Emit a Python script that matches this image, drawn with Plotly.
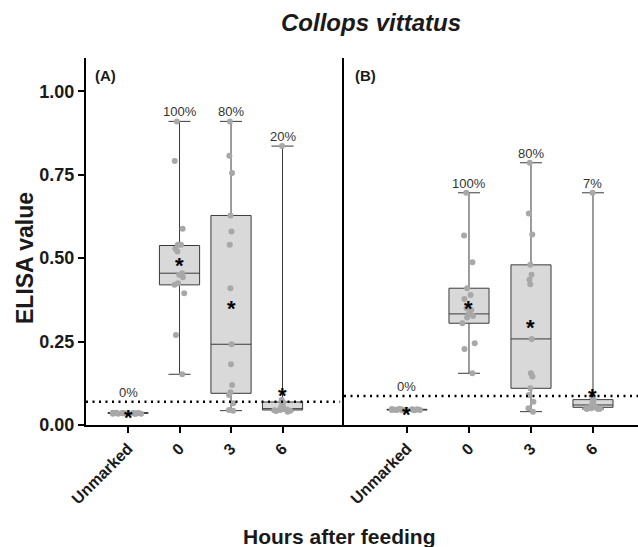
import plotly.graph_objects as go

# ---------------- data ----------------
categories = ["Unmarked", "0", "3", "6"]
y_tick_vals = [0.0, 0.25, 0.5, 0.75, 1.0]
y_tick_text = ["0.00", "0.25", "0.50", "0.75", "1.00"]

# Panel A box statistics
A_q1 = [0.035, 0.420, 0.095, 0.045]
A_median = [0.036, 0.455, 0.242, 0.049]
A_q3 = [0.037, 0.538, 0.628, 0.069]
A_lower = [0.034, 0.152, 0.043, 0.042]
A_upper = [0.038, 0.910, 0.910, 0.836]
A_mean = [0.036, 0.492, 0.365, 0.102]
A_pct = ["0%", "100%", "80%", "20%"]
A_cutoff = 0.070

# Panel B box statistics
B_q1 = [0.045, 0.305, 0.110, 0.053]
B_median = [0.046, 0.333, 0.258, 0.060]
B_q3 = [0.047, 0.410, 0.480, 0.076]
B_lower = [0.044, 0.155, 0.040, 0.048]
B_upper = [0.048, 0.696, 0.786, 0.696]
B_mean = [0.046, 0.365, 0.308, 0.100]
B_pct = ["0%", "100%", "80%", "7%"]
B_cutoff = 0.087

# individual samples
A_unmarked = [0.035, 0.036, 0.034, 0.037, 0.035, 0.036, 0.033, 0.035, 0.036, 0.034, 0.037, 0.035, 0.036, 0.034, 0.035]
A_h0 = [0.910, 0.791, 0.588, 0.540, 0.540, 0.528, 0.520, 0.455, 0.450, 0.443, 0.425, 0.420, 0.395, 0.270, 0.152]
A_h3 = [0.910, 0.807, 0.755, 0.628, 0.580, 0.540, 0.410, 0.242, 0.182, 0.120, 0.098, 0.090, 0.065, 0.045, 0.043]
A_h6 = [0.836, 0.075, 0.068, 0.062, 0.055, 0.052, 0.050, 0.048, 0.047, 0.046, 0.045, 0.044, 0.043, 0.042, 0.040]

B_unmarked = [0.046, 0.047, 0.045, 0.048, 0.046, 0.045, 0.047, 0.046, 0.044, 0.047, 0.046, 0.045, 0.048, 0.046, 0.045]
B_h0 = [0.696, 0.568, 0.488, 0.410, 0.390, 0.378, 0.350, 0.345, 0.333, 0.327, 0.322, 0.305, 0.245, 0.228, 0.155]
B_h3 = [0.786, 0.634, 0.571, 0.480, 0.450, 0.435, 0.422, 0.258, 0.155, 0.145, 0.110, 0.090, 0.070, 0.050, 0.040]
B_h6 = [0.696, 0.085, 0.078, 0.070, 0.065, 0.060, 0.058, 0.055, 0.053, 0.052, 0.050, 0.050, 0.049, 0.048, 0.048]

# ---------------- style ----------------
FONT = "Arial, 'Liberation Sans', sans-serif"
BOX_FILL = "#d9d9d9"
BOX_LINE = "#3a3a3a"
POINT = "#a8a8a8"
INK = "#1a1a1a"

W, H = 638, 547
ML, MR, MT, MB = 86, 0, 58, 122
PW = W - ML - MR
PH = H - MT - MB
split = 258 / PW

fig = go.Figure()


def add_panel(xa, ya, q1, med, q3, lo, hi, width, samples, jitters):
    fig.add_trace(go.Box(
        x=categories, q1=q1, median=med, q3=q3, lowerfence=lo, upperfence=hi,
        xaxis=xa, yaxis=ya, width=width, fillcolor=BOX_FILL,
        line=dict(color=BOX_LINE, width=1), whiskerwidth=0.55,
        boxpoints=False, hoverinfo="skip", showlegend=False))
    for cat, vals, jit in zip(categories, samples, jitters):
        fig.add_trace(go.Box(
            x=[cat] * len(vals), y=vals, xaxis=xa, yaxis=ya, width=width,
            boxpoints="all", jitter=jit, pointpos=0,
            fillcolor="rgba(0,0,0,0)", line=dict(color="rgba(0,0,0,0)", width=0),
            marker=dict(color=POINT, size=6), hoverinfo="skip", showlegend=False))


add_panel("x", "y", A_q1, A_median, A_q3, A_lower, A_upper, 0.78,
          [A_unmarked, A_h0, A_h3, A_h6], [1.0, 0.45, 0.2, 0.5])
add_panel("x2", "y2", B_q1, B_median, B_q3, B_lower, B_upper, 0.646,
          [B_unmarked, B_h0, B_h3, B_h6], [1.0, 0.45, 0.2, 0.5])

annotations = []
for xr, yr, means, uppers, pcts, cut in [("x", "y", A_mean, A_upper, A_pct, A_cutoff),
                                          ("x2", "y2", B_mean, B_upper, B_pct, B_cutoff)]:
    for i, (m, u, p) in enumerate(zip(means, uppers, pcts)):
        annotations.append(dict(x=i, y=m, xref=xr, yref=yr, text="*", showarrow=False,
                                xanchor="center", yanchor="middle",
                                font=dict(family=FONT, size=22, color="black", weight="bold"),
                                yshift=-5))
        annotations.append(dict(x=i, y=max(u, cut), xref=xr, yref=yr, text=p, showarrow=False,
                                xanchor="center", yanchor="bottom", yshift=0,
                                font=dict(family=FONT, size=13, color="#333333")))


def px_x(px):
    return (px - ML) / PW


def px_y(py):
    return (MT + PH - py) / PH


annotations += [
    dict(text="<i>Collops vittatus</i>", x=px_x(371), y=px_y(22),
         font=dict(family=FONT, size=24, color=INK, weight="bold")),
    dict(text="ELISA value", x=px_x(25), y=px_y(258), textangle=-90,
         font=dict(family=FONT, size=23, color=INK, weight="bold")),
    dict(text="Hours after feeding", x=px_x(339), y=px_y(536),
         font=dict(family=FONT, size=21, color=INK, weight="bold")),
    dict(text="(A)", x=px_x(93), y=px_y(76), xanchor="left",
         font=dict(family=FONT, size=15, color=INK, weight="bold")),
    dict(text="(B)", x=px_x(353), y=px_y(75), xanchor="left",
         font=dict(family=FONT, size=15, color=INK, weight="bold")),
]
for a in annotations[-5:]:
    a.update(xref="paper", yref="paper", showarrow=False, yanchor="middle")
    a.setdefault("xanchor", "center")

shapes = [
    dict(type="line", xref="x domain", yref="y", x0=0, x1=0.985, y0=A_cutoff, y1=A_cutoff,
         line=dict(color="black", width=2.5, dash="2px,4.5px")),
    dict(type="line", xref="x2 domain", yref="y2", x0=0, x1=1, y0=B_cutoff, y1=B_cutoff,
         line=dict(color="black", width=2.5, dash="2px,4.5px")),
]

xcommon = dict(type="category", categoryorder="array", categoryarray=categories,
               tickvals=categories, ticks="outside", ticklen=6, tickwidth=1.5, tickcolor="black",
               showline=True, linecolor="black", linewidth=2, showgrid=False, zeroline=False,
               automargin=False, tickangle=-45,
               tickfont=dict(family=FONT, size=16, color=INK, weight="bold"))

fig.update_layout(
    width=W, height=H, margin=dict(l=ML, r=MR, t=MT, b=MB, pad=0, autoexpand=False),
    paper_bgcolor="white", plot_bgcolor="white", boxmode="overlay",
    showlegend=False,
    xaxis=dict(domain=[0, split], range=[-0.816, 4.194], anchor="y", **xcommon),
    xaxis2=dict(domain=[split, 1], range=[-1.016, 3.726], anchor="y2", **xcommon),
    yaxis=dict(range=[0, 1.1], tickvals=y_tick_vals, ticktext=y_tick_text, anchor="x",
               ticks="outside", ticklen=6, tickwidth=1.5, tickcolor="black", automargin=False,
               showline=True, linecolor="black", linewidth=2, showgrid=False, zeroline=False,
               tickfont=dict(family=FONT, size=18, color=INK, weight="bold")),
    yaxis2=dict(range=[0, 1.1], anchor="x2", showticklabels=False, ticks="", automargin=False,
                showline=True, linecolor="black", linewidth=2, showgrid=False, zeroline=False),
    annotations=annotations, shapes=shapes,
)

fig.write_html("out.html", config={"displayModeBar": False},
               post_script="document.body.style.margin='0';document.body.style.overflow='hidden';")
